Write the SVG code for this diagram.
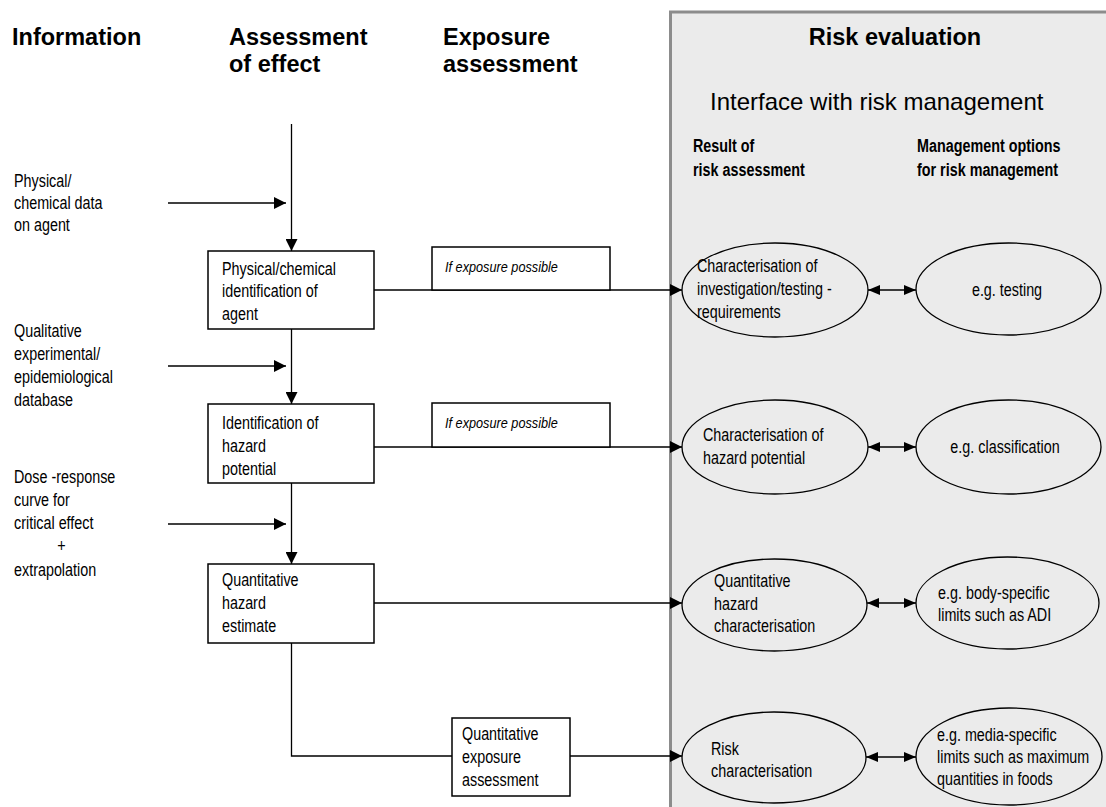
<svg xmlns="http://www.w3.org/2000/svg" width="1106" height="807" viewBox="0 0 1106 807">
<style>
.t{font-family:"Liberation Sans",Arial,sans-serif;font-size:17.5px;fill:#000}
.h{font-family:"Liberation Sans",Arial,sans-serif;font-size:23.5px;font-weight:bold;fill:#000}
.b{font-weight:bold}
.i{font-style:italic;font-size:15.5px}
.box{fill:#fff;stroke:#000;stroke-width:1.5}
.ell{fill:none;stroke:#000;stroke-width:1.3}
.ln{fill:none;stroke:#000;stroke-width:1.3}
.arr{marker-end:url(#ah)}
.dbl{marker-start:url(#sh);marker-end:url(#sh)}
</style>
<defs>
<marker id="ah" viewBox="0 0 12 12" markerWidth="12" markerHeight="12" markerUnits="userSpaceOnUse" refX="12" refY="6" orient="auto"><path d="M0,0 L12,6 L0,12 Z" fill="#000"/></marker>
<marker id="sh" viewBox="0 0 12 10" markerWidth="12" markerHeight="10" markerUnits="userSpaceOnUse" refX="12" refY="5" orient="auto-start-reverse"><path d="M0,0 L12,5 L0,10 Z" fill="#000"/></marker>
</defs>
<rect width="1106" height="807" fill="#fff"/>
<g id="panel">
<rect x="670.5" y="12" width="500" height="900" fill="#ebebeb" stroke="#8c8c8c" stroke-width="3"/>
</g>
<g id="headers">
<text class="h" x="12" y="45">Information</text>
<text class="h" x="229" y="45">Assessment</text>
<text class="h" x="229" y="72">of effect</text>
<text class="h" x="443" y="45">Exposure</text>
<text class="h" x="443" y="72">assessment</text>
<text class="h" x="895" y="45" text-anchor="middle">Risk evaluation</text>
<text class="t" x="710" y="110" style="font-size:24px">Interface with risk management</text>
<text class="t b" transform="translate(693,152) scale(0.82,1)"><tspan x="0" y="0">Result of</tspan><tspan x="0" y="24">risk assessment</tspan></text>
<text class="t b" transform="translate(917,152) scale(0.82,1)"><tspan x="0" y="0">Management options</tspan><tspan x="0" y="24">for risk management</tspan></text>
</g>
<g id="inputs">
<text class="t" transform="translate(14,187) scale(0.82,1)"><tspan x="0" y="0">Physical/</tspan><tspan x="0" y="22">chemical data</tspan><tspan x="0" y="44">on agent</tspan></text>
<text class="t" transform="translate(14,337) scale(0.82,1)"><tspan x="0" y="0">Qualitative</tspan><tspan x="0" y="23">experimental/</tspan><tspan x="0" y="46">epidemiological</tspan><tspan x="0" y="69">database</tspan></text>
<text class="t" transform="translate(14,483) scale(0.82,1)"><tspan x="0" y="0">Dose -response</tspan><tspan x="0" y="23">curve for</tspan><tspan x="0" y="46">critical effect</tspan><tspan x="58" y="69" text-anchor="middle">+</tspan><tspan x="0" y="93">extrapolation</tspan></text>
</g>
<g id="connectors">
<path class="ln arr" d="M291.5,124 V251"/>
<path class="ln arr" d="M168,203 H286"/>
<path class="ln arr" d="M291.5,329 V404"/>
<path class="ln arr" d="M168,366 H286"/>
<path class="ln arr" d="M291.5,483 V564"/>
<path class="ln arr" d="M168,524 H286"/>
<path class="ln arr" d="M374,290 H682"/>
<path class="ln arr" d="M374,447 H682"/>
<path class="ln arr" d="M374,603 H682"/>
<path class="ln" d="M291.5,643 V756 H452"/>
<path class="ln arr" d="M570,756 H682"/>
<path class="ln dbl" d="M868,290 H916"/>
<path class="ln dbl" d="M868,447 H916"/>
<path class="ln dbl" d="M867,603 H916"/>
<path class="ln dbl" d="M866,757 H916"/>
</g>
<g id="box-physchem">
<rect class="box" x="208" y="251" width="166" height="78"/>
<text class="t" transform="translate(222,275) scale(0.82,1)"><tspan x="0" y="0">Physical/chemical</tspan><tspan x="0" y="22.5">identification of</tspan><tspan x="0" y="45">agent</tspan></text>
</g>
<g id="box-hazard">
<rect class="box" x="208" y="404" width="166" height="79"/>
<text class="t" transform="translate(222,429) scale(0.82,1)"><tspan x="0" y="0">Identification of</tspan><tspan x="0" y="23">hazard</tspan><tspan x="0" y="46">potential</tspan></text>
</g>
<g id="box-quant">
<rect class="box" x="208" y="564" width="166" height="79"/>
<text class="t" transform="translate(222,586) scale(0.82,1)"><tspan x="0" y="0">Quantitative</tspan><tspan x="0" y="23">hazard</tspan><tspan x="0" y="46">estimate</tspan></text>
</g>
<g id="box-if1">
<rect class="box" x="432" y="247" width="178" height="43"/>
<text class="t i" transform="translate(445,272) scale(0.82,1)">If exposure possible</text>
</g>
<g id="box-if2">
<rect class="box" x="432" y="403" width="178" height="44"/>
<text class="t i" transform="translate(445,428) scale(0.82,1)">If exposure possible</text>
</g>
<g id="box-exposure">
<rect class="box" x="452" y="718" width="118" height="78"/>
<text class="t" transform="translate(462,740) scale(0.82,1)"><tspan x="0" y="0">Quantitative</tspan><tspan x="0" y="23">exposure</tspan><tspan x="0" y="46">assessment</tspan></text>
</g>
<g id="ell-testing-req">
<ellipse class="ell" cx="775" cy="290" rx="93" ry="47"/>
<text class="t" transform="translate(697,272) scale(0.82,1)"><tspan x="0" y="0">Characterisation of</tspan><tspan x="0" y="23">investigation/testing -</tspan><tspan x="0" y="46">requirements</tspan></text>
</g>
<g id="ell-testing">
<ellipse class="ell" cx="1008.5" cy="289" rx="92.5" ry="46"/>
<text class="t" transform="translate(1007,296) scale(0.82,1)" text-anchor="middle">e.g. testing</text>
</g>
<g id="ell-hazard-char">
<ellipse class="ell" cx="775" cy="447" rx="93" ry="47"/>
<text class="t" transform="translate(703,441) scale(0.82,1)"><tspan x="0" y="0">Characterisation of</tspan><tspan x="0" y="23">hazard potential</tspan></text>
</g>
<g id="ell-classification">
<ellipse class="ell" cx="1008.5" cy="447" rx="92.5" ry="47"/>
<text class="t" transform="translate(1005,453) scale(0.82,1)" text-anchor="middle">e.g. classification</text>
</g>
<g id="ell-quant-char">
<ellipse class="ell" cx="774.5" cy="605" rx="92.5" ry="46"/>
<text class="t" transform="translate(714,587) scale(0.82,1)"><tspan x="0" y="0">Quantitative</tspan><tspan x="0" y="23">hazard</tspan><tspan x="0" y="45.5">characterisation</tspan></text>
</g>
<g id="ell-adi">
<ellipse class="ell" cx="1007.5" cy="603" rx="91.5" ry="46"/>
<text class="t" transform="translate(938,599) scale(0.82,1)"><tspan x="0" y="0">e.g. body-specific</tspan><tspan x="0" y="22">limits such as ADI</tspan></text>
</g>
<g id="ell-risk-char">
<ellipse class="ell" cx="774" cy="757.5" rx="92" ry="45.5"/>
<text class="t" transform="translate(711,755) scale(0.82,1)"><tspan x="0" y="0">Risk</tspan><tspan x="0" y="22">characterisation</tspan></text>
</g>
<g id="ell-media">
<ellipse class="ell" cx="1009" cy="756.5" rx="93" ry="48.5"/>
<text class="t" transform="translate(937,741) scale(0.82,1)"><tspan x="0" y="0">e.g. media-specific</tspan><tspan x="0" y="22.5">limits such as maximum</tspan><tspan x="0" y="44.5">quantities in foods</tspan></text>
</g>
</svg>
